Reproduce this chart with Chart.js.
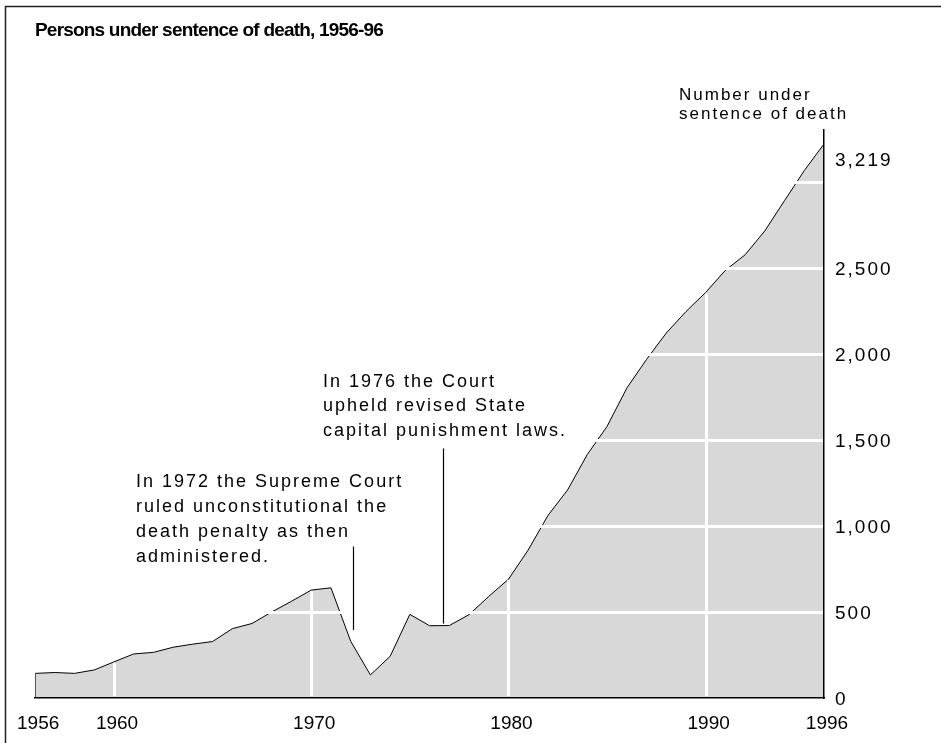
<!DOCTYPE html>
<html>
<head>
<meta charset="utf-8">
<script src="https://cdn.jsdelivr.net/npm/chart.js@4/dist/chart.umd.min.js"></script>
<style>
html,body{margin:0;padding:0;background:#fff;}
#wrap{width:941px;height:743px;position:relative;}
</style>
</head>
<body>
<div id="wrap"><canvas id="c" width="941" height="743"></canvas></div>
<script>
// ---- data ----
const years = [1956,1957,1958,1959,1960,1961,1962,1963,1964,1965,1966,1967,1968,1969,1970,
               1971,1972,1973,1974,1975,1976,1977,1978,1979,1980,1981,1982,1983,1984,1985,
               1986,1987,1988,1989,1990,1991,1992,1993,1994,1995,1996];
const counts = [143,148,143,163,210,256,265,295,313,328,403,433,500,562,627,
                640,330,134,242,486,420,421,484,590,690,860,1060,1209,1415,1578,
                1800,1967,2120,2245,2356,2485,2575,2714,2890,3064,3219];
const xTickYears = [1956,1960,1970,1980,1990,1996];
const yTickValues = [0,500,1000,1500,2000,2500];
const hGridValues = [500,1000,1500,2000,2500,3000];
const vGridYears = [1960,1970,1980,1990];
const titleText = 'Persons under sentence of death, 1956-96';
const axisTitleLines = ['Number under','sentence of death'];
const note1972Lines = ['In 1972 the Supreme Court','ruled unconstitutional the','death penalty as then','administered.'];
const note1976Lines = ['In 1976 the Court','upheld revised State','capital punishment laws.'];

const FONT = '"Liberation Sans", Arial, Helvetica, sans-serif';

const overlay = {
  id: 'overlay',
  beforeDraw(chart) {
    const ys = chart.scales.y;
    if (!ys._ls) {
      const orig = ys.drawLabels;
      ys.drawLabels = function (a) {
        const c = this.ctx; c.save(); c.letterSpacing = '2px'; orig.call(this, a); c.restore();
      };
      ys._ls = true;
    }
  },
  afterDatasetsDraw(chart) {
    const {ctx, chartArea: a, scales: {x, y}} = chart;
    ctx.save();
    // left outline of the area
    ctx.strokeStyle = '#555'; ctx.lineWidth = 1;
    const lx = Math.round(x.getPixelForValue(years[0])) + 0.5;
    ctx.beginPath(); ctx.moveTo(lx, y.getPixelForValue(counts[0])); ctx.lineTo(lx, y.getPixelForValue(0)); ctx.stroke();
    // white grid lines over the area
    ctx.strokeStyle = '#ffffff';
    ctx.lineWidth = 3;
    hGridValues.forEach(v => {
      const py = Math.round(y.getPixelForValue(v)) + 0.5;
      ctx.beginPath(); ctx.moveTo(a.left, py); ctx.lineTo(a.right, py); ctx.stroke();
    });
    vGridYears.forEach(yr => {
      const px = Math.round(x.getPixelForValue(yr)) + 0.5;
      const top = y.getPixelForValue(counts[years.indexOf(yr)]);
      ctx.beginPath(); ctx.moveTo(px, y.getPixelForValue(0) - 2); ctx.lineTo(px, top + 1); ctx.stroke();
    });
    ctx.restore();
  },
  afterDraw(chart) {
    const {ctx, chartArea: a, scales: {x, y}} = chart;
    ctx.save();
    // frame
    ctx.strokeStyle = '#222'; ctx.lineWidth = 1.5;
    ctx.beginPath(); ctx.moveTo(5.5, 743); ctx.lineTo(5.5, 6.5); ctx.lineTo(941, 6.5); ctx.stroke();
    // title
    ctx.fillStyle = '#000';
    ctx.textBaseline = 'middle'; ctx.textAlign = 'left';
    ctx.letterSpacing = '-0.8px';
    ctx.font = 'bold 19px ' + FONT;
    ctx.fillText(titleText, 35, 31);
    // axis title
    ctx.letterSpacing = '2px';
    ctx.font = '17px ' + FONT;
    axisTitleLines.forEach((t, i) => ctx.fillText(t, 679, 95 + i * 19));
    // last value label
    ctx.font = '19px ' + FONT;
    const lastV = counts[counts.length - 1];
    ctx.fillText(lastV.toLocaleString('en-US'), a.right + 11, y.getPixelForValue(lastV) + 17);
    // notes
    ctx.font = '18px ' + FONT;
    note1972Lines.forEach((t, i) => ctx.fillText(t, 136, 482 + i * 25));
    note1976Lines.forEach((t, i) => ctx.fillText(t, 323, 382 + i * 24.5));
    ctx.letterSpacing = '0px';
    // leader lines
    ctx.strokeStyle = '#000'; ctx.lineWidth = 1.2;
    let px = Math.round(x.getPixelForValue(1972.1)) + 0.5;
    ctx.beginPath(); ctx.moveTo(px, y.getPixelForValue(880)); ctx.lineTo(px, y.getPixelForValue(395)); ctx.stroke();
    px = Math.round(x.getPixelForValue(1976.7)) + 0.5;
    ctx.beginPath(); ctx.moveTo(px, y.getPixelForValue(1450)); ctx.lineTo(px, y.getPixelForValue(432)); ctx.stroke();
    ctx.restore();
  }
};

new Chart(document.getElementById('c').getContext('2d'), {
  type: 'line',
  data: {
    datasets: [{
      data: years.map((yr, i) => ({x: yr, y: counts[i]})),
      fill: 'origin',
      backgroundColor: '#d8d8d8',
      borderColor: '#000',
      borderWidth: 1,
      pointRadius: 0,
      tension: 0
    }]
  },
  options: {
    responsive: false,
    animation: false,
    devicePixelRatio: 1,
    layout: {padding: {left: 31, top: 130, right: 0, bottom: 0}},
    plugins: {legend: {display: false}, tooltip: {enabled: false}, title: {display: false}},
    scales: {
      x: {
        type: 'linear', min: 1956, max: 1996,
        grid: {display: false, drawTicks: false},
        border: {display: true, color: '#000', width: 1.5, dash: [14, 6], z: 1},
        afterBuildTicks: s => { s.ticks = xTickYears.map(v => ({value: v})); },
        afterFit: s => { s.height = 45; },
        ticks: {
          callback: v => String(v),
          font: {family: FONT, size: 19}, color: '#000',
          padding: 14, labelOffset: 3, maxRotation: 0, autoSkip: false
        }
      },
      y: {
        position: 'right', min: 0, max: 3300,
        grid: {display: false, drawTicks: false},
        border: {display: true, color: '#000', width: 1.5, z: 1},
        afterBuildTicks: s => { s.ticks = yTickValues.map(v => ({value: v})); },
        afterFit: s => { s.width = 117; },
        ticks: {
          callback: v => Number(v).toLocaleString('en-US'),
          font: {family: FONT, size: 19}, color: '#000',
          padding: 11, labelOffset: 2
        }
      }
    }
  },
  plugins: [overlay]
});
</script>
</body>
</html>
